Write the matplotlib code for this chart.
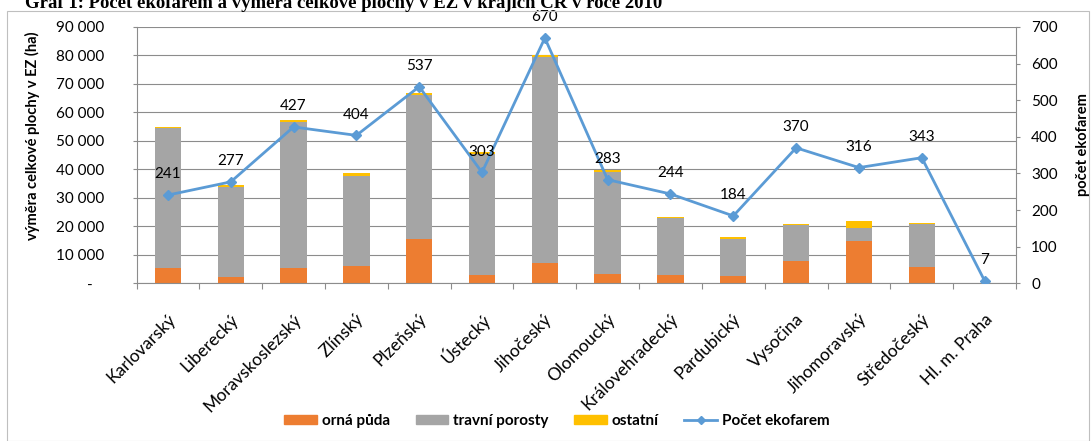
import numpy as np
import matplotlib
matplotlib.use("Agg")
import matplotlib.pyplot as plt
from matplotlib.patches import Patch, Rectangle
from matplotlib.lines import Line2D
from matplotlib.ticker import FuncFormatter, MultipleLocator
from matplotlib.transforms import ScaledTranslation

plt.rcParams['font.family'] = ['Lato', 'DejaVu Sans']

kraje = ['Karlovarský', 'Liberecký', 'Moravskoslezský', 'Zlínský', 'Plzeňský',
         'Ústecký', 'Jihočeský', 'Olomoucký', 'Královehradecký', 'Pardubický',
         'Vysočina', 'Jihomoravský', 'Středočeský', 'Hl. m. Praha']
orna_puda = [5200, 2100, 5400, 6200, 15400, 2900, 7200, 3300, 2800, 2400, 7900, 14700, 5800, 50]
travni_porosty = [49200, 31800, 51100, 31500, 50700, 42500, 72300, 35900, 20100, 13100, 12400, 4800, 15000, 100]
ostatni = [600, 600, 950, 1150, 600, 600, 600, 600, 500, 600, 600, 2300, 500, 20]
pocet_ekofarem = [241, 277, 427, 404, 537, 303, 670, 283, 244, 184, 370, 316, 343, 7]

c_orna = '#ED7D31'
c_travni = '#A5A5A5'
c_ostatni = '#FFC000'
c_line = '#5B9BD5'
c_grid = '#8C8C8C'

fig = plt.figure(figsize=(10.92, 4.41), dpi=100)
ax = fig.add_axes([136.5/1092, 1-283.3/441, (1016-136.5)/1092, (283.3-27)/441])
ax2 = ax.twinx()

x = np.arange(len(kraje))
orna = np.array(orna_puda)
travni = np.array(travni_porosty)
ost = np.array(ostatni)
w = 0.42
ax.bar(x, orna, w, color=c_orna, zorder=2)
ax.bar(x, travni, w, bottom=orna, color=c_travni, zorder=2)
ax.bar(x, ost, w, bottom=orna+travni, color=c_ostatni, zorder=2)

ax.set_xlim(-0.5, len(kraje)-0.5)
ax.set_ylim(0, 90000)
ax.yaxis.set_major_locator(MultipleLocator(10000))
ax.yaxis.set_major_formatter(FuncFormatter(lambda v, p: '-   ' if v == 0 else f'{int(v):,}'.replace(',', ' ')))
ax.grid(axis='y', color=c_grid, linewidth=0.8)
ax.set_axisbelow(True)

ax2.plot(x, pocet_ekofarem, color=c_line, linewidth=2, marker='D', markersize=5, zorder=3)
ax2.set_ylim(0, 700)
ax2.yaxis.set_major_locator(MultipleLocator(100))
for xi, v in zip(x, pocet_ekofarem):
    ax2.annotate(str(v), (xi, v), xytext=(0, 15), textcoords='offset points',
                 ha='center', va='center', fontsize=11, color='black', annotation_clip=False)

for a in (ax, ax2):
    for s in a.spines.values():
        s.set_visible(False)
ax.spines['left'].set_visible(True)
ax.spines['bottom'].set_visible(True)
ax2.spines['right'].set_visible(True)
for s in (ax.spines['left'], ax.spines['bottom'], ax2.spines['right']):
    s.set_color(c_grid)
    s.set_linewidth(0.8)

ax.set_xticks(x)
ax.set_xticklabels(kraje, rotation=45, ha='right', va='center', rotation_mode='anchor', fontsize=12.5)
ax.tick_params(axis='x', which='major', length=0, pad=24)
shift = ScaledTranslation(5/100, 0, fig.dpi_scale_trans)
for lab in ax.get_xticklabels():
    lab.set_transform(lab.get_transform() + shift)
ax.set_xticks(np.arange(len(kraje)+1)-0.5, minor=True)
ax.tick_params(axis='x', which='minor', length=4, color=c_grid, width=0.8)
ax.tick_params(axis='y', length=3, color=c_grid, width=0.8, pad=20, labelsize=11)
ax2.tick_params(axis='y', length=3, color=c_grid, width=0.8, pad=8, labelsize=11)

fig.text(32/1092, 1-136/441, 'výměra celkové plochy v EZ (ha)', rotation=90,
         ha='center', va='center', fontsize=10.5, fontweight='bold')
fig.text(1083/1092, 1-145/441, 'počet ekofarem', rotation=90,
         ha='center', va='center', fontsize=10.5, fontweight='bold')

fig.text(25/1092, 1-8/441, 'Graf 1: Počet ekofarem a výměra celkové plochy v EZ v krajích ČR v roce 2010',
         ha='left', va='baseline', fontsize=13.5, fontweight='bold', family=['Liberation Serif'])

fig.patches.append(Rectangle((7/1092, 0), 1082/1092, 1-11/441, transform=fig.transFigure,
                             fill=False, edgecolor='#BFBFBF', linewidth=0.8))

handles = [Patch(color=c_orna), Patch(color=c_travni), Patch(color=c_ostatni),
           Line2D([], [], color=c_line, linewidth=2, marker='D', markersize=4)]
labels = ['orná půda', 'travní porosty', 'ostatní', 'Počet ekofarem']
fig.legend(handles, labels, loc='center', bbox_to_anchor=(557/1092, 1-420.7/441), ncol=4,
           frameon=False, handlelength=2.15, handleheight=0.52, handletextpad=0.33,
           columnspacing=1.65, prop={'weight': 'bold', 'size': 11})

fig.savefig('out.png', dpi=100)
